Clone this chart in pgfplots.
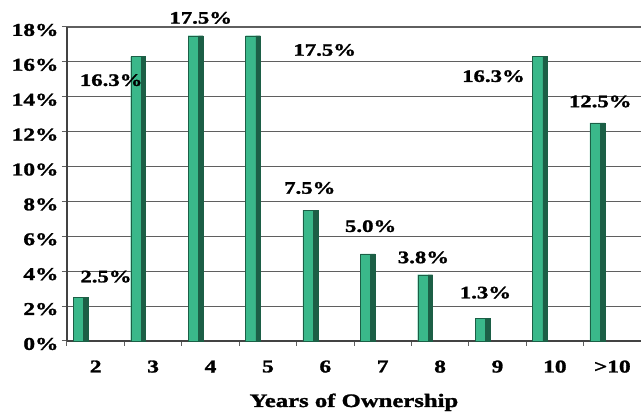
\documentclass[border=0pt]{standalone}
\usepackage{fontspec}
\setmainfont{Liberation Serif}[FakeStretch=1.3, BoldFeatures={FakeBold=1.5}]
\usepackage{pgfplots}
\pgfplotsset{compat=1.18}
\definecolor{barface}{RGB}{58,184,138}
\definecolor{barside}{RGB}{28,95,70}
\definecolor{gridc}{RGB}{95,95,95}
\begin{document}
\begin{tikzpicture}
\begin{axis}[
 scale only axis, width=574pt, height=314pt,
 xmin=-0.5, xmax=9.5, ymin=0, ymax=18,
 axis x line=bottom, axis y line=left,
 axis line style={draw=gridc!70!black, line width=1.4pt, -},
 ytick={0,2,...,18}, yticklabel={\pgfmathprintnumber{\tick}\%},
 yticklabel style={yshift=-3pt},
 xtick={-0.5,0.5,...,9.5}, xticklabel={\relax},
 extra x ticks={0,...,9}, extra x tick labels={2,3,4,5,6,7,8,9,10,{>10}},
 extra x tick style={major tick length=0pt, xticklabel style={yshift=-16pt}},
 tick align=outside, major tick length=5pt,
 tick style={gridc, line width=1pt},
 ymajorgrids, grid style={gridc, line width=1.2pt},
 tick label style={font=\fontsize{18}{20}\selectfont\bfseries},
 /pgf/number format/assume math mode=true,
 xlabel={Years of Ownership},
 xlabel style={font=\fontsize{19}{22}\selectfont\bfseries, at={(axis description cs:0.5,0)}, anchor=base, yshift=-66pt},
 clip=false,
]
\addplot[ybar, bar width=0.18, bar shift=-0.30, fill=barface, draw=barside, line width=0.4pt]
 coordinates {(0,2.5)(1,16.3)(2,17.5)(3,17.5)(4,7.5)(5,5.0)(6,3.8)(7,1.3)(8,16.3)(9,12.5)};
\addplot[ybar, bar width=0.08, bar shift=-0.17, fill=barside, draw=barside, line width=0.4pt]
 coordinates {(0,2.5)(1,16.3)(2,17.5)(3,17.5)(4,7.5)(5,5.0)(6,3.8)(7,1.3)(8,16.3)(9,12.5)};
\begin{scope}[every node/.style={font=\fontsize{17.5}{19}\selectfont\bfseries}]
\node at (axis cs:0.18,3.69) {2.5\%};
\node at (axis cs:0.27,14.95) {16.3\%};
\node at (axis cs:1.83,18.52) {17.5\%};
\node at (axis cs:3.99,16.68) {17.5\%};
\node at (axis cs:3.73,8.77) {7.5\%};
\node at (axis cs:4.79,6.58) {5.0\%};
\node at (axis cs:5.71,4.79) {3.8\%};
\node at (axis cs:6.79,2.77) {1.3\%};
\node at (axis cs:6.93,15.18) {16.3\%};
\node at (axis cs:8.79,13.73) {12.5\%};
\end{scope}
\coordinate (sw) at (rel axis cs:0,0);
\coordinate (ne) at (rel axis cs:1,1);
\end{axis}
\pgfresetboundingbox
\path ([shift={(-67pt,-72pt)}]sw) rectangle ([shift={(0pt,27pt)}]ne);
\end{tikzpicture}
\end{document}
